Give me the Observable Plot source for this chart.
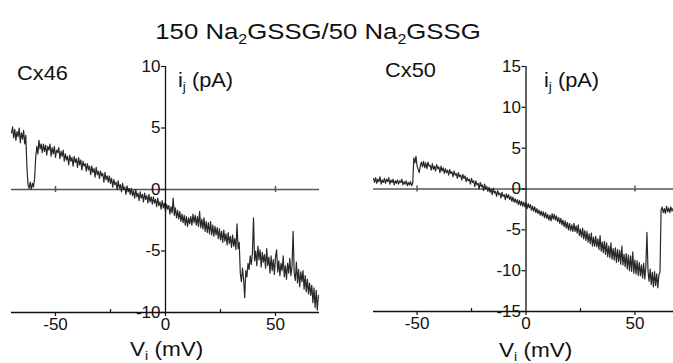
<!DOCTYPE html>
<html><head><meta charset="utf-8">
<script src="https://cdn.jsdelivr.net/npm/d3@7"></script>
<script src="https://cdn.jsdelivr.net/npm/@observablehq/plot@0.6"></script>
<style>
html,body{margin:0;padding:0;background:#fff;overflow:hidden}
#wrap{position:relative;width:673px;height:363px;font-family:"Liberation Sans",Arial,sans-serif;color:#111}
.panel{position:absolute;top:0}
#overlay{position:absolute;left:0;top:0;pointer-events:none}
</style></head><body><div id="wrap"></div>
<script>
// ---- data ----
const vStart = -70;      // mV, first sample of the voltage ramp
const vStep = 0.5;       // mV between samples
const cx46Current = [
4.6,5.1,4.2,4.9,4.0,4.7,4.3,5.0,3.8,4.6,4.1,4.8,3.7,4.4,
1.8,0.4,0.1,0.6,0.0,0.5,0.2,0.9,2.6,3.5,2.9,4.0,3.3,3.7,
3.0,3.7,3.1,3.6,2.8,3.5,3.2,3.7,2.7,3.4,2.9,3.5,2.6,3.2,3.0,3.4,2.5,3.1,2.7,3.2,
2.3,2.9,2.4,2.7,2.0,2.8,2.3,2.6,1.9,2.7,2.2,2.5,1.8,2.6,2.0,2.4,1.6,2.3,1.9,2.1,
1.5,2.1,1.6,1.9,1.2,1.9,1.4,1.7,1.0,1.8,1.2,1.5,0.9,1.5,1.1,1.3,0.6,1.4,0.8,1.1,
0.6,1.1,0.5,0.9,0.2,0.8,0.4,0.6,0.0,0.7,0.1,0.4,-0.2,0.5,0.0,0.2,-0.4,0.3,-0.2,0.1,
-0.4,0.1,-0.5,-0.1,-0.7,0.0,-0.6,-0.3,-0.9,-0.2,-0.7,-0.4,-1.0,-0.3,-0.8,-0.5,-1.1,-0.4,-1.0,-0.6,
-1.2,-0.6,-1.1,-0.8,-1.4,-0.7,-1.3,-1.0,-1.6,-0.9,-1.5,-1.1,-1.8,-1.2,-1.6,-1.3,-2.0,-1.4,-1.9,-0.7,
-2.1,-1.5,-2.3,-1.7,-2.4,-1.8,-2.6,-2.0,-2.7,-2.1,-2.9,-2.2,-3.0,-2.3,-2.8,-2.2,-2.9,-2.0,-2.7,-2.1,
-2.9,-2.2,-3.0,-1.8,-3.1,-2.4,-3.2,-2.3,-3.4,-2.6,-3.5,-2.7,-3.6,-2.6,-3.7,-2.9,-3.8,-3.0,-3.7,-3.1,
-4.0,-3.2,-4.1,-3.4,-4.3,-3.3,-4.2,-3.6,-4.5,-3.5,-4.4,-3.8,-4.7,-3.7,-4.6,-4.0,-4.9,-2.8,-4.8,-4.3,
-6.8,-7.5,-6.4,-7.3,-8.8,-6.6,-7.1,-6.0,-6.5,-5.4,-6.1,-5.2,
-2.3,-5.8,-5.0,-6.2,-4.6,-5.7,-4.9,-6.3,-5.1,-5.9,-5.3,-6.4,-4.8,-6.2,-5.5,-6.8,-5.4,-6.6,-5.7,-6.9,
-5.5,-4.9,-6.7,-5.8,-7.0,-6.0,-6.6,-5.4,-7.1,-6.2,-7.3,-6.0,-6.8,-5.6,-7.0,-6.3,
-3.4,-6.8,-7.4,-5.9,-7.6,-6.5,-7.9,-6.7,-7.5,-6.6,-8.1,-7.0,-8.3,-7.3,-8.5,-7.6,-8.6,-7.8,-9.2,-8.0,
-9.6,-8.2,-9.8,-8.6
];
const cx50Current = [
1.3,0.8,1.4,0.7,1.2,0.9,1.5,0.6,1.1,0.8,1.3,0.7,1.2,0.9,1.4,0.6,1.1,0.8,1.2,0.5,
1.0,0.7,1.1,0.6,1.0,0.8,1.2,0.5,0.9,0.6,1.0,0.4,0.8,0.5,0.9,0.4,0.7,
3.8,3.2,4.0,2.8,2.4,2.0,2.9,
3.3,2.7,3.4,2.6,3.2,2.5,3.3,2.8,2.9,2.3,3.1,2.4,2.8,2.2,3.0,2.5,2.7,2.0,2.8,2.2,
2.6,1.9,2.5,2.0,2.3,1.7,2.4,1.9,2.1,1.5,2.2,1.7,1.9,1.3,2.0,1.5,1.7,1.1,1.8,1.3,
1.6,0.9,1.4,1.0,1.2,0.6,1.3,0.8,1.0,0.3,1.0,0.5,0.7,0.0,0.8,0.3,0.5,-0.2,0.6,0.0,
0.3,-0.3,0.2,-0.4,0.0,-0.7,0.1,-0.5,-0.3,-0.9,-0.2,-0.7,-0.5,-1.1,-0.4,-0.9,-0.7,-1.3,-0.6,-1.1,
-0.7,-1.3,-0.9,-1.5,-1.0,-1.6,-1.2,-1.7,-1.3,-1.9,-1.4,-2.0,-1.5,-2.1,-1.6,-2.2,-1.7,-2.4,-1.8,-2.3,
-1.9,-2.6,-2.1,-2.7,-2.2,-2.9,-2.4,-3.0,-2.6,-3.2,-2.7,-3.3,-2.8,-3.5,-2.9,-3.6,-3.1,-3.8,-3.2,-3.9,
-3.0,-3.7,-3.1,-3.8,-3.3,-4.0,-3.5,-4.2,-3.6,-4.4,-3.8,-4.6,-3.9,-4.8,-4.1,-5.0,-4.2,-5.1,-4.4,-5.2,
-4.2,-5.2,-4.5,-5.4,-4.4,-5.7,-4.9,-5.9,-4.8,-6.1,-5.1,-6.3,-5.2,-6.5,-5.5,-6.7,-5.4,-7.0,-5.9,-7.0,
-5.8,-7.1,-6.1,-7.4,-5.7,-7.6,-6.5,-7.8,-6.4,-8.0,-6.6,-8.3,-7.0,-8.4,-6.6,-8.6,-7.3,-8.7,-7.2,-9.0,
-7.4,-8.9,-7.5,-9.2,-7.0,-9.3,-8.0,-9.5,-7.9,-9.8,-8.1,-10.0,-8.2,-10.1,-7.7,-10.3,-8.7,-10.4,-8.8,-10.6,
-9.0,-10.6,-9.3,-10.9,-9.1,-11.0,-9.6,-5.3,-10.0,-11.3,-9.8,-11.7,-10.2,-12.0,-10.1,-11.8,-10.4,-12.1,-10.5,-10.2,
-2.6,-2.2,-2.9,-2.4,-3.0,-2.1,-2.8,-2.3,-2.9,-2.2,-2.7,-2.4
];
const cx46YTicks = [-10, -5, 0, 5, 10];
const cx50YTicks = [-15, -10, -5, 0, 5, 10, 15];
const xMajorTicks = [-50, 0, 50];
const xMinorTicks = [-25, 25];
const zeroLineTicks = [-50, 50];
const panelNames = ["Cx46", "Cx50"];

// ---- drawing ----
const font = '"Liberation Sans", Arial, sans-serif';
function toRows(values) {
  return values.map((c, i) => ({v: vStart + i * vStep, i: c}));
}
function panel({rows, xDomain, yDomain, yTicks, width, height, mL, mR, mT, mB}) {
  const pxPerX = (width - mL - mR) / (xDomain[1] - xDomain[0]);
  const pxPerY = (height - mT - mB) / (yDomain[1] - yDomain[0]);
  const yMin = yDomain[0];
  return Plot.plot({
    width, height,
    marginLeft: mL, marginRight: mR, marginTop: mT, marginBottom: mB,
    style: {fontFamily: font, background: "transparent", color: "#111", overflow: "visible"},
    x: {domain: xDomain, axis: null},
    y: {domain: yDomain, axis: null},
    marks: [
      Plot.ruleY([0], {stroke: "#555", strokeWidth: 1.6}),
      Plot.ruleX(zeroLineTicks, {x: d => d, y1: -3 / pxPerY, y2: 3 / pxPerY, stroke: "#555", strokeWidth: 1.5}),
      Plot.ruleY([yMin], {stroke: "#111", strokeWidth: 1.3}),
      Plot.ruleX(xMajorTicks, {x: d => d, y1: yMin, y2: yMin - 4 / pxPerY, stroke: "#111", strokeWidth: 1.2}),
      Plot.ruleX(xMinorTicks, {x: d => d, y1: yMin, y2: yMin + 3 / pxPerY, stroke: "#111", strokeWidth: 1.2}),
      Plot.ruleX([0], {stroke: "#111", strokeWidth: 1.3}),
      Plot.ruleY(yTicks, {y: d => d, x1: -4 / pxPerX, x2: 0, stroke: "#111", strokeWidth: 1.2}),
      Plot.text(yTicks, {x: 0, y: d => d, text: d => String(d), textAnchor: "end", dx: -5, fontSize: 17, fill: "#111"}),
      Plot.text(xMajorTicks, {x: d => d, y: yMin, text: d => String(d), lineAnchor: "top", dy: 5, fontSize: 17, fill: "#111"}),
      Plot.line(rows, {x: "v", y: "i", stroke: "#111", strokeWidth: 1.2, strokeOpacity: 0.9})
    ]
  });
}

const wrap = document.getElementById("wrap");
const left = panel({rows: toRows(cx46Current), xDomain: [-70, 70], yDomain: [-10, 10], yTicks: cx46YTicks,
  width: 336, height: 363, mL: 11, mR: 17, mT: 66, mB: 51});
left.classList.add("panel"); left.style.left = "0px";
wrap.appendChild(left);
const right = panel({rows: toRows(cx50Current), xDomain: [-70, 67.7], yDomain: [-15, 15], yTicks: cx50YTicks,
  width: 336, height: 363, mL: 36, mR: 0, mT: 66, mB: 52});
right.classList.add("panel"); right.style.left = "337px";
wrap.appendChild(right);

// ---- labels ----
const svg = d3.select(wrap).append("svg").attr("id", "overlay")
  .attr("width", 673).attr("height", 363)
  .style("font-family", font).style("fill", "#111");
function label(x, y, parts, size, anchor, sx) {
  const t = svg.append("text")
    .attr("transform", `translate(${x},${y}) scale(${sx || 1.1},1)`)
    .attr("font-size", size)
    .attr("text-anchor", anchor || "start");
  let shifted = false;
  parts.forEach(p => {
    const s = t.append("tspan");
    if (p.sub) {
      s.attr("font-size", size * 0.62).attr("dy", size * 0.2).text(p.sub);
      shifted = true;
    } else {
      if (shifted) s.attr("dy", -size * 0.2);
      shifted = false;
      s.text(p.t);
    }
  });
}
label(318, 39, [{t: "150 Na"}, {sub: "2"}, {t: "GSSG/50 Na"}, {sub: "2"}, {t: "GSSG"}], 23, "middle", 1.12);
label(17, 80, [{t: panelNames[0]}], 20, "start", 1.09);
label(385, 76.5, [{t: panelNames[1]}], 20, "start", 1.09);
label(178, 87, [{t: "i"}, {sub: "j"}, {t: " (pA)"}], 20, "start", 1.09);
label(544, 86.5, [{t: "i"}, {sub: "j"}, {t: " (pA)"}], 20, "start", 1.09);
label(130, 356, [{t: "V"}, {sub: "i"}, {t: " (mV)"}], 20.5, "start", 1.1);
label(499, 357, [{t: "V"}, {sub: "i"}, {t: " (mV)"}], 20.5, "start", 1.1);
</script></body></html>
